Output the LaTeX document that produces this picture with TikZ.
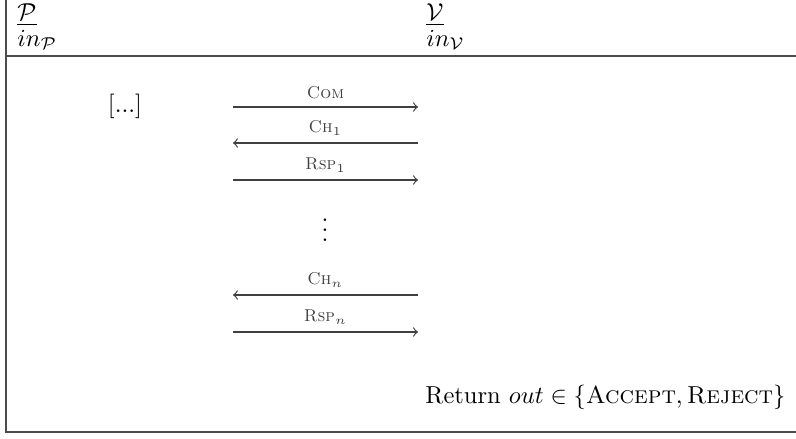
\documentclass[tikz,border=0pt]{standalone}
\usepackage{amssymb}
\begin{document}
\begin{tikzpicture}[x=0.408pt,y=-0.408pt,
  frame/.style={line width=0.75pt,black!70},
  msg/.style={line width=0.5pt,black!75,->},
  lbl/.style={font=\scriptsize,inner sep=0pt,anchor=base},
  txt/.style={inner sep=0pt,anchor=west}]
\useasboundingbox (0,0) rectangle (796,438);
\coordinate (tl) at (6,0);
\coordinate (bl) at (6,432);
\coordinate (ml) at (6,56);
\coordinate (mr) at (796,56);
\coordinate (br) at (796,432);
\draw[frame] (tl) -- (bl) -- (br);
\draw[frame] (ml) -- (mr);
\node[txt] (P) at (17,15) {\underline{$\mathcal{P}$}};
\node[txt] (inP) at (17,40) {$in_{\mathcal{P}}$};
\node[txt] (V) at (426,15) {\underline{$\mathcal{V}$}};
\node[txt] (inV) at (426,40) {$in_{\mathcal{V}}$};
\node[inner sep=0pt] (dots) at (125,106) {[...]};
\coordinate (a1) at (233,107); \coordinate (b1) at (418,107);
\coordinate (a2) at (233,143); \coordinate (b2) at (418,143);
\coordinate (a3) at (233,180); \coordinate (b3) at (418,180);
\coordinate (a4) at (233,295); \coordinate (b4) at (418,295);
\coordinate (a5) at (233,332); \coordinate (b5) at (418,332);
\draw[msg] (a1) -- node[lbl,above=3pt] (l1) {\textsc{Com}} (b1);
\draw[msg] (b2) -- node[lbl,above=3pt] (l2) {\textsc{Ch}$_1$} (a2);
\draw[msg] (a3) -- node[lbl,above=3pt] (l3) {\textsc{Rsp}$_1$} (b3);
\node[inner sep=0pt] (vd) at (325,223) {$\vdots$};
\draw[msg] (b4) -- node[lbl,above=3pt] (l4) {\textsc{Ch}$_n$} (a4);
\draw[msg] (a5) -- node[lbl,above=3pt] (l5) {\textsc{Rsp}$_n$} (b5);
\node[txt] (ret) at (425,397) {Return $out \in \{\textsc{Accept}, \textsc{Reject}\}$};
\end{tikzpicture}
\end{document}
